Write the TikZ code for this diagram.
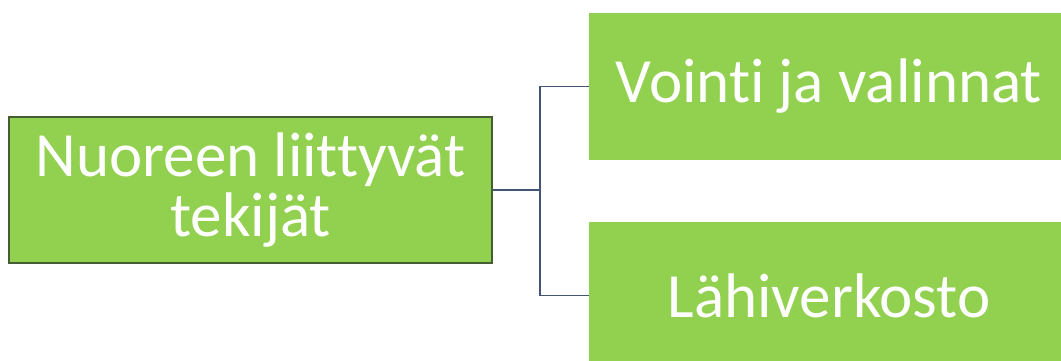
\documentclass[tikz,border=0pt]{standalone}
\usepackage{fontspec}
\setmainfont{Carlito}[Ligatures={NoCommon,NoContextual}]
\usepackage{xcolor}
\usepackage{tikz}
\usetikzlibrary{positioning}

\definecolor{leafgreen}{RGB}{146,208,80}
\definecolor{rimgreen}{RGB}{70,92,52}
\definecolor{linkblue}{RGB}{68,84,116}

\begin{document}
\begin{tikzpicture}[x=1pt, y=-1pt,
    box/.style={fill=leafgreen, text=white, minimum width=480pt, minimum height=147pt,
        inner sep=0pt, align=center, font=\fontsize{63}{60}\selectfont},
    link/.style={draw=linkblue, line width=1.6pt}]

    % frame of the page
    \useasboundingbox (0,0) rectangle (1061,360);
    \clip (0,0) rectangle (1061,360);

    % Root node
    \node[box, draw=rimgreen, line width=1.8pt, minimum width=483pt, minimum height=146pt] (root) at (250.5,190) {Nuoreen liittyvät\\tekijät};

    % Child nodes
    \node[box] (vointi) at (829,86.5) {Vointi ja valinnat};
    \node[box] (lahi) at (829,295.5) {Lähiverkosto};

    % Connections
    \coordinate (fork) at (540,190);
    \draw[link] (root.east) -- (fork);
    \draw[link] (fork) |- (vointi.west);
    \draw[link] (fork) |- (lahi.west);

\end{tikzpicture}
\end{document}
